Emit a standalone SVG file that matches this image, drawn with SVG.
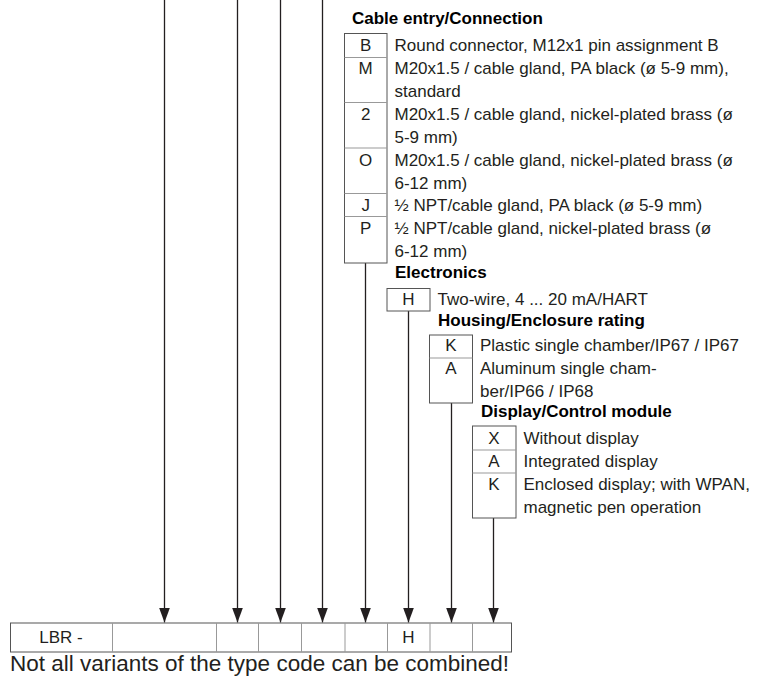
<svg xmlns="http://www.w3.org/2000/svg" width="760" height="677" viewBox="0 0 760 677">
<defs>
<marker id="ah" markerUnits="userSpaceOnUse" viewBox="0 0 15 11" refX="15" refY="5.5" markerWidth="15" markerHeight="11" orient="auto">
<path d="M0,0 L15,5.5 L0,11 z" fill="#231f20"/>
</marker>
<style>
.t{font-family:"Liberation Sans",Arial,sans-serif;font-size:17px;fill:#231f20}
.c{font-family:"Liberation Sans",Arial,sans-serif;font-size:17px;fill:#231f20;text-anchor:middle}
.h{font-family:"Liberation Sans",Arial,sans-serif;font-size:17px;font-weight:bold;fill:#000}
.box{fill:none;stroke:#555;stroke-width:1}
.sep{stroke:#999;stroke-width:1;fill:none}
.conn{stroke:#231f20;stroke-width:1.3;fill:none;marker-end:url(#ah)}
.f{font-family:"Liberation Sans",Arial,sans-serif;font-size:22.5px;fill:#231f20}
</style>
</defs>
<rect width="760" height="677" fill="#fff"/>

<g id="connectors">
<line class="conn" x1="164.5" y1="0" x2="164.5" y2="622.5"/>
<line class="conn" x1="237.5" y1="0" x2="237.5" y2="622.5"/>
<line class="conn" x1="280.5" y1="0" x2="280.5" y2="622.5"/>
<line class="conn" x1="322.5" y1="0" x2="322.5" y2="622.5"/>
<line class="conn" x1="365.5" y1="263" x2="365.5" y2="622.5"/>
<line class="conn" x1="408.5" y1="311" x2="408.5" y2="622.5"/>
<line class="conn" x1="451.5" y1="403" x2="451.5" y2="622.5"/>
<line class="conn" x1="493.5" y1="518" x2="493.5" y2="622.5"/>
</g>

<g id="cable-entry">
<text class="h" x="352" y="24">Cable entry/Connection</text>
<rect class="box" x="344.5" y="33.5" width="42.5" height="229.5"/>
<line class="sep" x1="344.5" y1="57.5" x2="387" y2="57.5"/>
<line class="sep" x1="344.5" y1="102.5" x2="387" y2="102.5"/>
<line class="sep" x1="344.5" y1="148" x2="387" y2="148"/>
<line class="sep" x1="344.5" y1="193.5" x2="387" y2="193.5"/>
<line class="sep" x1="344.5" y1="216.5" x2="387" y2="216.5"/>
<text class="c" x="365.7" y="51">B</text>
<text class="t" x="394.5" y="51">Round connector, M12x1 pin assignment B</text>
<text class="c" x="365.7" y="74">M</text>
<text class="t" x="394.5" y="74">M20x1.5 / cable gland, PA black (ø 5-9 mm),</text>
<text class="t" x="394.5" y="96.5">standard</text>
<text class="c" x="365.7" y="120">2</text>
<text class="t" x="394.5" y="120">M20x1.5 / cable gland, nickel-plated brass (ø</text>
<text class="t" x="394.5" y="142.5">5-9 mm)</text>
<text class="c" x="365.7" y="166">O</text>
<text class="t" x="394.5" y="166">M20x1.5 / cable gland, nickel-plated brass (ø</text>
<text class="t" x="394.5" y="188.5">6-12 mm)</text>
<text class="c" x="365.7" y="211">J</text>
<text class="t" x="394.5" y="211">½ NPT/cable gland, PA black (ø 5-9 mm)</text>
<text class="c" x="365.7" y="234">P</text>
<text class="t" x="394.5" y="234">½ NPT/cable gland, nickel-plated brass (ø</text>
<text class="t" x="394.5" y="256.5">6-12 mm)</text>
</g>

<g id="electronics">
<text class="h" x="395" y="278">Electronics</text>
<rect class="box" x="387" y="288.5" width="43" height="22.5"/>
<text class="c" x="408.5" y="305">H</text>
<text class="t" x="437.5" y="305">Two-wire, 4 ... 20 mA/HART</text>
</g>

<g id="housing">
<text class="h" x="438" y="326">Housing/Enclosure rating</text>
<rect class="box" x="429.5" y="335" width="43" height="68"/>
<line class="sep" x1="429.5" y1="358" x2="472.5" y2="358"/>
<text class="c" x="451" y="351">K</text>
<text class="t" x="480" y="351">Plastic single chamber/IP67 / IP67</text>
<text class="c" x="451" y="374">A</text>
<text class="t" x="480" y="374">Aluminum single cham-</text>
<text class="t" x="480" y="396.5">ber/IP66 / IP68</text>
</g>

<g id="display">
<text class="h" x="481" y="417">Display/Control module</text>
<rect class="box" x="472.5" y="426" width="43.5" height="92"/>
<line class="sep" x1="472.5" y1="450" x2="516" y2="450"/>
<line class="sep" x1="472.5" y1="473" x2="516" y2="473"/>
<text class="c" x="494" y="444">X</text>
<text class="t" x="523.5" y="444">Without display</text>
<text class="c" x="494" y="467">A</text>
<text class="t" x="523.5" y="467">Integrated display</text>
<text class="c" x="494" y="490">K</text>
<text class="t" x="523.5" y="490">Enclosed display; with WPAN,</text>
<text class="t" x="523.5" y="512.5">magnetic pen operation</text>
</g>

<g id="type-code">
<rect class="box" x="10.5" y="623" width="501" height="29"/>
<line class="sep" x1="112.5" y1="623" x2="112.5" y2="652"/>
<line class="sep" x1="216.5" y1="623" x2="216.5" y2="652"/>
<line class="sep" x1="258.5" y1="623" x2="258.5" y2="652"/>
<line class="sep" x1="301.5" y1="623" x2="301.5" y2="652"/>
<line class="sep" x1="345" y1="623" x2="345" y2="652"/>
<line class="sep" x1="387.5" y1="623" x2="387.5" y2="652"/>
<line class="sep" x1="430" y1="623" x2="430" y2="652"/>
<line class="sep" x1="472.5" y1="623" x2="472.5" y2="652"/>
<text class="c" x="61" y="643">LBR -</text>
<text class="c" x="408.5" y="643">H</text>
</g>

<text class="f" x="10" y="671">Not all variants of the type code can be combined!</text>
</svg>
